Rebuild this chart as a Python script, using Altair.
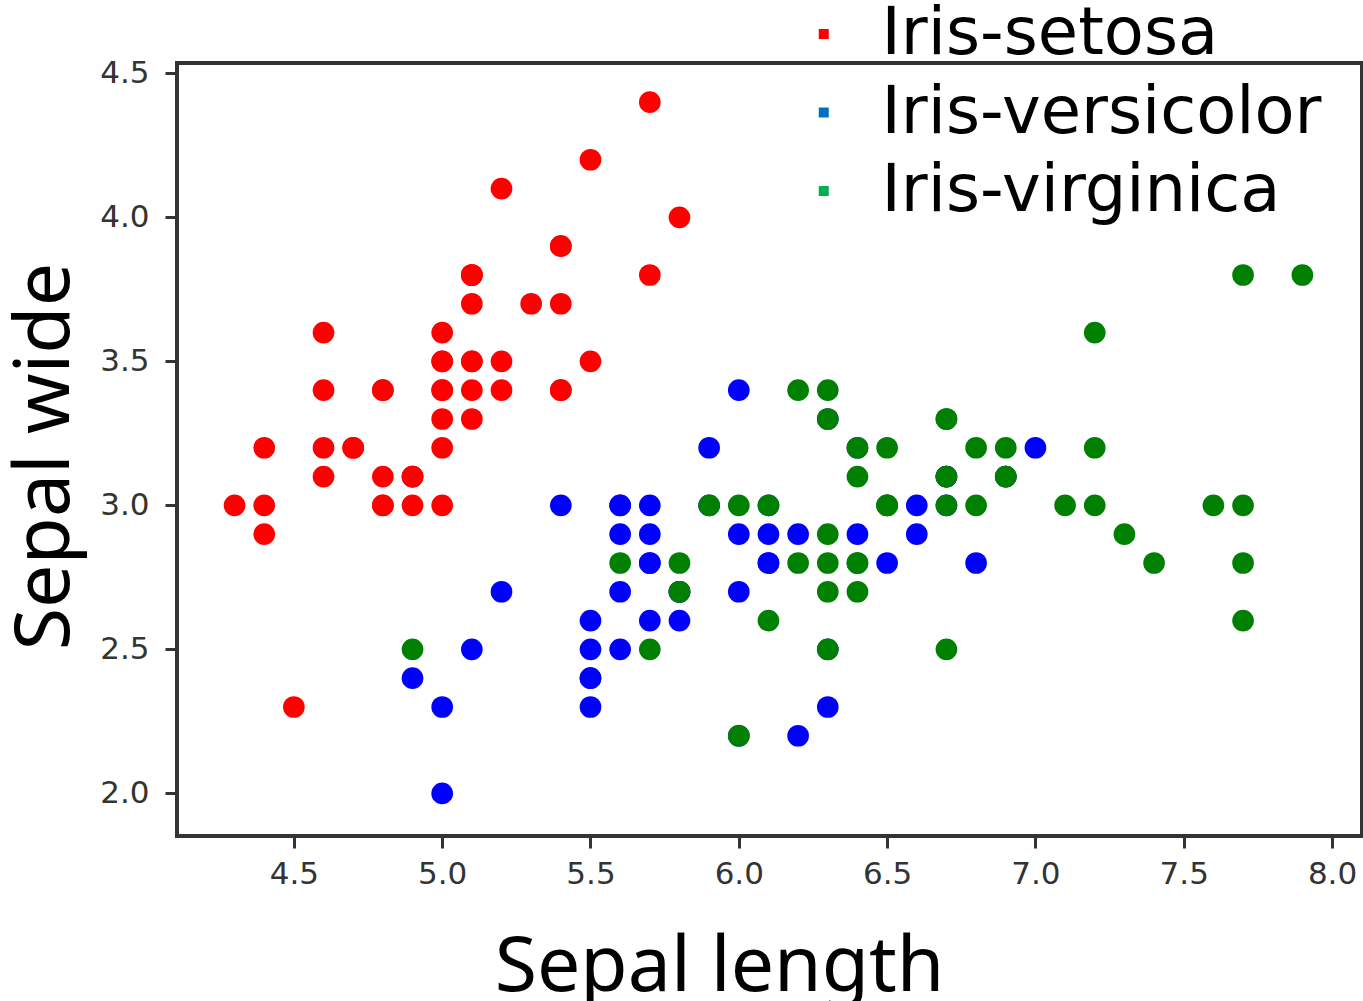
import altair as alt
import pandas as pd

species = ["Iris-setosa", "Iris-versicolor", "Iris-virginica"]

setosa_len = [5.1, 4.9, 4.7, 4.6, 5.0, 5.4, 4.6, 5.0, 4.4, 4.9, 5.4, 4.8, 4.8, 4.3, 5.8, 5.7, 5.4, 5.1, 5.7, 5.1,
              5.4, 5.1, 4.6, 5.1, 4.8, 5.0, 5.0, 5.2, 5.2, 4.7, 4.8, 5.4, 5.2, 5.5, 4.9, 5.0, 5.5, 4.9, 4.4, 5.1,
              5.0, 4.5, 4.4, 5.0, 5.1, 4.8, 5.1, 4.6, 5.3, 5.0]
setosa_wid = [3.5, 3.0, 3.2, 3.1, 3.6, 3.9, 3.4, 3.4, 2.9, 3.1, 3.7, 3.4, 3.0, 3.0, 4.0, 4.4, 3.9, 3.5, 3.8, 3.8,
              3.4, 3.7, 3.6, 3.3, 3.4, 3.0, 3.4, 3.5, 3.4, 3.2, 3.1, 3.4, 4.1, 4.2, 3.1, 3.2, 3.5, 3.1, 3.0, 3.4,
              3.5, 2.3, 3.2, 3.5, 3.8, 3.0, 3.8, 3.2, 3.7, 3.3]

versicolor_len = [7.0, 6.4, 6.9, 5.5, 6.5, 5.7, 6.3, 4.9, 6.6, 5.2, 5.0, 5.9, 6.0, 6.1, 5.6, 6.7, 5.6, 5.8, 6.2, 5.6,
                  5.9, 6.1, 6.3, 6.1, 6.4, 6.6, 6.8, 6.7, 6.0, 5.7, 5.5, 5.5, 5.8, 6.0, 5.4, 6.0, 6.7, 6.3, 5.6, 5.5,
                  5.5, 6.1, 5.8, 5.0, 5.6, 5.7, 5.7, 6.2, 5.1, 5.7]
versicolor_wid = [3.2, 3.2, 3.1, 2.3, 2.8, 2.8, 3.3, 2.4, 2.9, 2.7, 2.0, 3.0, 2.2, 2.9, 2.9, 3.1, 3.0, 2.7, 2.2, 2.5,
                  3.2, 2.8, 2.5, 2.8, 2.9, 3.0, 2.8, 3.0, 2.9, 2.6, 2.4, 2.4, 2.7, 2.7, 3.0, 3.4, 3.1, 2.3, 3.0, 2.5,
                  2.6, 3.0, 2.6, 2.3, 2.7, 3.0, 2.9, 2.9, 2.5, 2.8]

virginica_len = [6.3, 5.8, 7.1, 6.3, 6.5, 7.6, 4.9, 7.3, 6.7, 7.2, 6.5, 6.4, 6.8, 5.7, 5.8, 6.4, 6.5, 7.7, 7.7, 6.0,
                 6.9, 5.6, 7.7, 6.3, 6.7, 7.2, 6.2, 6.1, 6.4, 7.2, 7.4, 7.9, 6.4, 6.3, 6.1, 7.7, 6.3, 6.4, 6.0, 6.9,
                 6.7, 6.9, 5.8, 6.8, 6.7, 6.7, 6.3, 6.5, 6.2, 5.9]
virginica_wid = [3.3, 2.7, 3.0, 2.9, 3.0, 3.0, 2.5, 2.9, 2.5, 3.6, 3.2, 2.7, 3.0, 2.5, 2.8, 3.2, 3.0, 3.8, 2.6, 2.2,
                 3.2, 2.8, 2.8, 2.7, 3.3, 3.2, 2.8, 3.0, 2.8, 3.0, 2.8, 3.8, 2.8, 2.8, 2.6, 3.0, 3.4, 3.1, 3.0, 3.1,
                 3.1, 3.1, 2.7, 3.2, 3.3, 3.0, 2.5, 3.0, 3.4, 3.0]

x_ticks = [4.5, 5.0, 5.5, 6.0, 6.5, 7.0, 7.5, 8.0]
y_ticks = [2.0, 2.5, 3.0, 3.5, 4.0, 4.5]

point_colors = ["#ff0000", "#0000ff", "#008000"]
legend_colors = ["#ff0000", "#0070c0", "#00b050"]

rows = []
for name, xs, ys in [(species[0], setosa_len, setosa_wid),
                     (species[1], versicolor_len, versicolor_wid),
                     (species[2], virginica_len, virginica_wid)]:
    for a, b in zip(xs, ys):
        rows.append({"length": a, "wide": b, "species": name})
df = pd.DataFrame(rows)

x_enc = alt.X(
    "length:Q",
    scale=alt.Scale(domain=[4.106, 8.101], nice=False, zero=False),
    axis=alt.Axis(
        values=x_ticks, format=".1f", title="Sepal length", grid=False, domain=False,
        tickSize=12, tickWidth=3, tickColor="#333333",
        labelFont="DejaVu Sans", labelFontSize=31, labelColor="#333333", labelPadding=11,
        labelFlush=False, labelOverlap=False,
        titleFont="Noto Sans", titleFontSize=77, titleFontWeight="normal", titleColor="#000000",
        titleX=542, titleY=154, titleAlign="center", titleBaseline="alphabetic",
    ),
)
y_enc = alt.Y(
    "wide:Q",
    scale=alt.Scale(domain=[1.852, 4.536], nice=False, zero=False),
    axis=alt.Axis(
        values=y_ticks, format=".1f", title="Sepal wide", grid=False, domain=False,
        tickSize=12, tickWidth=3, tickColor="#333333",
        labelFont="DejaVu Sans", labelFontSize=31, labelColor="#333333", labelPadding=16,
        labelFlush=False, labelOverlap=False,
        titleFont="Noto Sans", titleFontSize=77, titleFontWeight="normal", titleColor="#000000",
        titleX=-109, titleY=393, titleAlign="center", titleBaseline="alphabetic", titleAngle=270,
    ),
)

base = alt.Chart(df)

points = base.mark_circle(size=470, opacity=1).encode(
    x=x_enc,
    y=y_enc,
    color=alt.Color("species:N", scale=alt.Scale(domain=species, range=point_colors), legend=None),
)

legend_layer = base.mark_square(size=100, opacity=0).encode(
    x=x_enc,
    y=y_enc,
    color=alt.Color(
        "species:N",
        scale=alt.Scale(domain=species, range=legend_colors),
        legend=alt.Legend(
            title=None, orient="none", legendX=614, legendY=-61.75, padding=0,
            symbolType="square", symbolSize=100, symbolOpacity=1, symbolStrokeWidth=0,
            labelFont="DejaVu Sans", labelFontSize=65.5, labelColor="#000000", labelLimit=1000,
            labelOffset=25, rowPadding=11.5,
        ),
    ),
)

chart = (
    alt.layer(legend_layer, points)
    .resolve_scale(color="independent")
    .properties(
        width=1185, height=773,
        autosize=alt.AutoSizeParams(type="none"),
        padding={"left": 177, "top": 63, "right": 1, "bottom": 165},
        background="white",
    )
    .configure_view(stroke="#333333", strokeWidth=4)
)

chart.save("out.html", embed_options={"renderer": "svg", "actions": False})
